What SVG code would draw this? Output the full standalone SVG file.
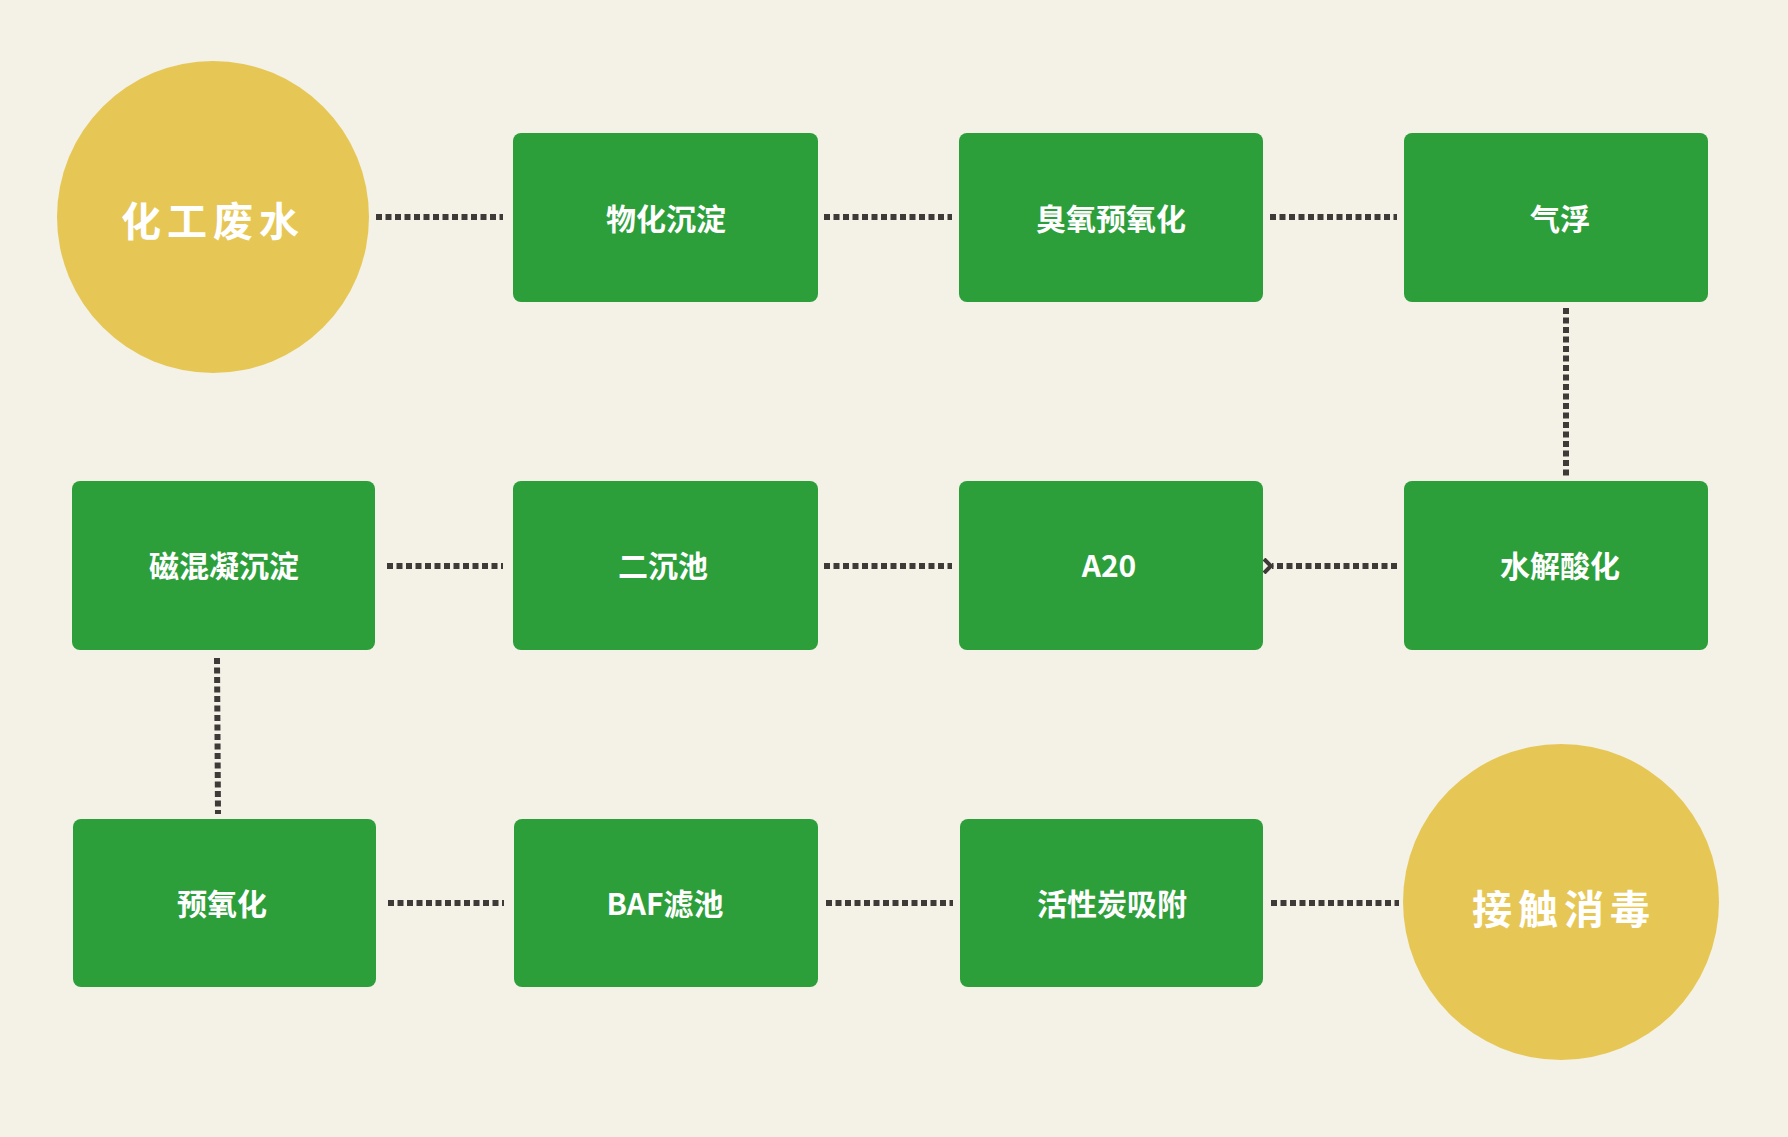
<svg xmlns="http://www.w3.org/2000/svg" width="1788" height="1137" viewBox="0 0 1788 1137">
<style>
.b{fill:#2c9e3a}
.c{fill:#e6c756}
.t{fill:#fff;font-family:"Noto Sans CJK SC","Liberation Sans",sans-serif;font-size:30px;font-weight:bold;text-anchor:middle;dominant-baseline:central}
.ct{font-size:40px;letter-spacing:6px}
.l{stroke:#3d3a37;stroke-width:6;stroke-dasharray:6 3.5;fill:none}
</style>
<defs><marker id="ah" markerWidth="12" markerHeight="16" refX="2" refY="8" orient="auto" markerUnits="userSpaceOnUse"><path d="M10,1 L3,8 L10,15" fill="none" stroke="#3d3a37" stroke-width="4"/></marker></defs>
<rect width="1788" height="1137" fill="#f4f2e7"/>
<g id="connectors">
<line class="l" x1="376" y1="217" x2="503" y2="217"/>
<line class="l" x1="824" y1="217" x2="952" y2="217"/>
<line class="l" x1="1270" y1="217" x2="1397" y2="217"/>
<line class="l" x1="1566" y1="308" x2="1566" y2="477"/>
<line class="l" x1="1397" y1="566" x2="1272" y2="566" marker-end="url(#ah)"/>
<line class="l" x1="824" y1="566" x2="952" y2="566"/>
<line class="l" x1="387" y1="566" x2="503" y2="566"/>
<line class="l" x1="217" y1="658" x2="218" y2="814"/>
<line class="l" x1="388" y1="903" x2="504" y2="903"/>
<line class="l" x1="826" y1="903" x2="953" y2="903"/>
<line class="l" x1="1271" y1="903" x2="1399" y2="903"/>
</g>
<g id="n1"><circle class="c" cx="213" cy="217" r="156"/><text class="t ct" x="213" y="219">化工废水</text></g>
<g id="n2"><rect class="b" x="513" y="133" width="305" height="169" rx="8"/><text class="t" x="666" y="217">物化沉淀</text></g>
<g id="n3"><rect class="b" x="959" y="133" width="304" height="169" rx="8"/><text class="t" x="1111" y="217">臭氧预氧化</text></g>
<g id="n4"><rect class="b" x="1404" y="133" width="304" height="169" rx="8"/><text class="t" x="1560" y="217">气浮</text></g>
<g id="n5"><rect class="b" x="1404" y="481" width="304" height="169" rx="8"/><text class="t" x="1560" y="564">水解酸化</text></g>
<g id="n6"><rect class="b" x="959" y="481" width="304" height="169" rx="8"/><text class="t" x="1109" y="564">A20</text></g>
<g id="n7"><rect class="b" x="513" y="481" width="305" height="169" rx="8"/><text class="t" x="663" y="564">二沉池</text></g>
<g id="n8"><rect class="b" x="72" y="481" width="303" height="169" rx="8"/><text class="t" x="224" y="564">磁混凝沉淀</text></g>
<g id="n9"><rect class="b" x="73" y="819" width="303" height="168" rx="8"/><text class="t" x="222" y="902">预氧化</text></g>
<g id="n10"><rect class="b" x="514" y="819" width="304" height="168" rx="8"/><text class="t" x="665" y="902">BAF滤池</text></g>
<g id="n11"><rect class="b" x="960" y="819" width="303" height="168" rx="8"/><text class="t" x="1112" y="902">活性炭吸附</text></g>
<g id="n12"><circle class="c" cx="1561" cy="902" r="158"/><text class="t ct" x="1564" y="907">接触消毒</text></g>
</svg>
